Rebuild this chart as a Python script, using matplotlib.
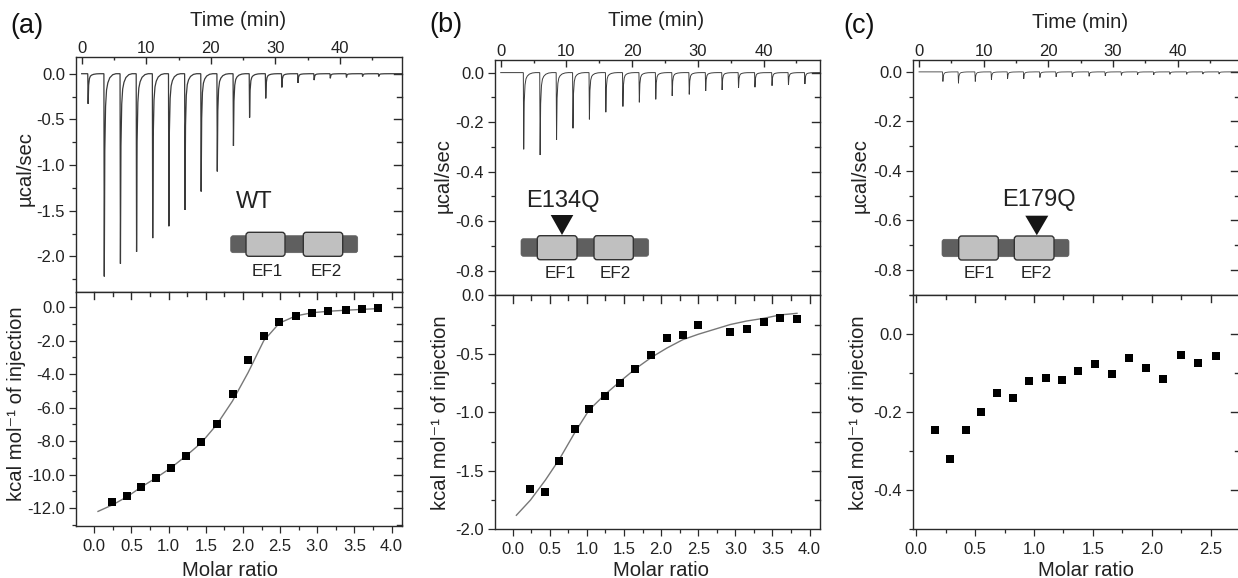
import numpy as np
import matplotlib
matplotlib.use("Agg")
import matplotlib.pyplot as plt
from matplotlib.patches import FancyBboxPatch, Polygon
from matplotlib.ticker import MultipleLocator, FormatStrFormatter

plt.rcParams['font.family'] = ['Liberation Sans', 'DejaVu Sans']
plt.rcParams['axes.unicode_minus'] = False

W, H = 1238, 578
DARK = '#2a2a2a'

### Thermogram injections: time (min) and peak depth (ucal/sec)
time_a = [1.0, 3.5, 6.0, 8.5, 11.0, 13.5, 16.0, 18.5, 21.0, 23.5, 26.0, 28.5, 31.0, 33.5, 36.0, 38.5, 41.0, 43.5, 46.0]
peak_a = [-0.33, -2.22, -2.08, -1.95, -1.80, -1.67, -1.49, -1.29, -1.07, -0.79, -0.48, -0.27, -0.15, -0.10, -0.07, -0.05, -0.04, -0.03, -0.03]
time_b = [3.5, 6.0, 8.5, 11.0, 13.5, 16.0, 18.6, 21.1, 23.6, 26.1, 28.7, 31.2, 33.7, 36.2, 38.7, 41.3, 43.8, 46.3]
peak_b = [-0.31, -0.333, -0.272, -0.225, -0.189, -0.16, -0.137, -0.12, -0.108, -0.094, -0.088, -0.074, -0.07, -0.062, -0.059, -0.053, -0.05, -0.046]
time_c = [3.7, 6.1, 8.7, 11.2, 13.7, 16.2, 18.7, 21.2, 23.7, 26.3, 28.8, 31.3, 33.8, 36.3, 38.8, 41.4, 43.9, 46.4]
peak_c = [-0.039, -0.046, -0.039, -0.032, -0.028, -0.028, -0.023, -0.02, -0.02, -0.018, -0.016, -0.014, -0.012, -0.012, -0.01, -0.01, -0.009, -0.009]

### Shape of one injection peak
shape_dt = [-0.06, 0.0, 0.08, 0.2, 0.35, 0.55, 0.85, 1.3, 1.8]
shape_frac = [0.0, 1.0, 0.38, 0.16, 0.08, 0.045, 0.02, 0.005, 0.0]

### Binding isotherms
ratio_a = [0.24, 0.44, 0.63, 0.83, 1.03, 1.23, 1.44, 1.65, 1.86, 2.07, 2.28, 2.49, 2.71, 2.93, 3.15, 3.38, 3.60, 3.82]
heat_a = [-11.62, -11.30, -10.73, -10.19, -9.63, -8.90, -8.04, -6.98, -5.21, -3.18, -1.69, -0.91, -0.52, -0.32, -0.24, -0.18, -0.08, -0.04]
fit_x_a = [0.05, 0.25, 0.45, 0.63, 0.83, 1.03, 1.23, 1.44, 1.65, 1.86, 2.07, 2.28, 2.49, 2.71, 2.93, 3.15, 3.38, 3.60, 3.82]
fit_y_a = [-12.2, -11.8, -11.3, -10.75, -10.2, -9.6, -8.9, -8.1, -7.0, -5.6, -3.9, -2.0, -0.95, -0.52, -0.33, -0.24, -0.18, -0.13, -0.08]

ratio_b = [0.24, 0.44, 0.63, 0.84, 1.03, 1.24, 1.44, 1.65, 1.87, 2.08, 2.29, 2.50, 2.93, 3.15, 3.38, 3.60, 3.83]
heat_b = [-1.652, -1.678, -1.419, -1.14, -0.974, -0.86, -0.749, -0.63, -0.513, -0.368, -0.342, -0.254, -0.316, -0.288, -0.231, -0.197, -0.20]
fit_x_b = [0.05, 0.24, 0.44, 0.63, 0.84, 1.03, 1.24, 1.44, 1.65, 1.87, 2.08, 2.29, 2.50, 2.93, 3.15, 3.38, 3.60, 3.83]
fit_y_b = [-1.88, -1.75, -1.58, -1.40, -1.17, -0.98, -0.85, -0.74, -0.63, -0.53, -0.45, -0.38, -0.333, -0.25, -0.22, -0.197, -0.168, -0.154]

ratio_c = [0.161, 0.289, 0.422, 0.552, 0.688, 0.824, 0.96, 1.10, 1.24, 1.377, 1.518, 1.663, 1.81, 1.95, 2.10, 2.246, 2.394, 2.547]
heat_c = [-0.245, -0.321, -0.245, -0.199, -0.151, -0.165, -0.12, -0.113, -0.117, -0.096, -0.078, -0.103, -0.061, -0.087, -0.115, -0.053, -0.075, -0.057]


def px_axes(fig, left, right, top, bottom):
    return fig.add_axes([left / W, 1 - bottom / H, (right - left) / W, (bottom - top) / H])


def style_axes(ax, xmaj, ymaj):
    ax.xaxis.set_major_locator(MultipleLocator(xmaj))
    ax.xaxis.set_minor_locator(MultipleLocator(xmaj / 2))
    ax.yaxis.set_major_locator(MultipleLocator(ymaj))
    ax.yaxis.set_minor_locator(MultipleLocator(ymaj / 2))
    ax.yaxis.set_major_formatter(FormatStrFormatter('%.1f'))
    for s in ax.spines.values():
        s.set_linewidth(1.0)
        s.set_color(DARK)
    # y ticks poke out on the left, in on the right
    ax.tick_params(axis='y', which='major', left=True, right=False, direction='out', length=5, width=0.9,
                   labelsize=12, pad=3, color=DARK, labelcolor='#222222')
    ax.tick_params(axis='y', which='minor', left=True, right=False, direction='out', length=3, width=0.9, color=DARK)


def right_ticks(ax, major, minor):
    # inward ticks on the right edge
    tr = ax.get_yaxis_transform()
    for v in major:
        ax.plot([1, 1 - 0.026], [v, v], transform=tr, color=DARK, lw=1.0, clip_on=False, zorder=1)
    for v in minor:
        ax.plot([1, 1 - 0.014], [v, v], transform=tr, color=DARK, lw=1.0, clip_on=False, zorder=1)


def thermogram(ax, times, peaks, t_end, lw):
    t = [0.0]
    y = [0.0]
    for ti, pk in zip(times, peaks):
        t += [ti + d for d in shape_dt]
        y += [pk * f for f in shape_frac]
    t.append(t_end)
    y.append(0.0)
    ax.plot(t, y, color='#3a3a3a', lw=lw, solid_joinstyle='miter')


def top_panel(ax, times, peaks, xlim, ylim, ymaj, lw):
    thermogram(ax, times, peaks, xlim[1], lw)
    ax.set_xlim(xlim)
    ax.set_ylim(ylim)
    style_axes(ax, 10, ymaj)
    ax.xaxis.set_major_formatter(FormatStrFormatter('%d'))
    ax.tick_params(axis='x', which='major', bottom=False, top=True, labelbottom=False, labeltop=True,
                   direction='in', length=5, width=1.0, labelsize=12, pad=1, color=DARK, labelcolor='#222222')
    ax.tick_params(axis='x', which='minor', bottom=False, top=True, direction='in', length=2.5, width=1.0, color=DARK)
    ymin, ymax = ylim
    vals = np.arange(0, ymin, -ymaj)
    mins = np.arange(ymaj / 2, -ymin, ymaj)
    right_ticks(ax, vals, -mins)


def bottom_panel(ax, x, y, fx, fy, xlim, ylim, xmaj, ymaj):
    if fx is not None:
        ax.plot(fx, fy, color='#777777', lw=1.0, zorder=2)
    ax.plot(x, y, ls='none', marker='s', ms=6.2, color='black', mew=0, zorder=3)
    ax.set_xlim(xlim)
    ax.set_ylim(ylim)
    style_axes(ax, xmaj, ymaj)
    ax.xaxis.set_major_formatter(FormatStrFormatter('%.1f'))
    ax.tick_params(axis='x', which='major', bottom=True, top=False, direction='out', length=5, width=0.9,
                   labelsize=12, pad=4, color=DARK, labelcolor='#222222')
    ax.tick_params(axis='x', which='minor', bottom=True, top=False, direction='out', length=3, width=0.9, color=DARK)
    # inward ticks along the shared top edge
    tr = ax.get_xaxis_transform()
    lo = np.ceil(xlim[0] / (xmaj / 2)) * (xmaj / 2)
    for v in np.arange(lo, xlim[1], xmaj / 2):
        major = abs(v / xmaj - round(v / xmaj)) < 1e-6
        ax.plot([v, v], [1, 1 - (0.032 if major else 0.018)], transform=tr, color=DARK, lw=1.0, clip_on=False, zorder=1)
    ymin, ymax = ylim
    n = int(round((ymax - ymin) / (ymaj / 2)))
    ticks = [round(np.ceil(ymin / (ymaj / 2)) * (ymaj / 2) + k * ymaj / 2, 4) for k in range(n + 1)]
    major = [v for v in ticks if abs(v / ymaj - round(v / ymaj)) < 1e-6 and ymin < v < ymax]
    minor = [v for v in ticks if abs(v / ymaj - round(v / ymaj)) >= 1e-6 and ymin < v < ymax]
    right_ticks(ax, major, minor)


def domain(ov, dark, box1, box2, y_dark, y_box, label_x, label_y):
    dk = FancyBboxPatch((dark[0] + 2, y_dark[0] + 2), dark[1] - dark[0] - 4, y_dark[1] - y_dark[0] - 4,
                        boxstyle='round,pad=2,rounding_size=2.5', fc='#5f5f5f', ec='#5f5f5f', lw=0.5)
    ov.add_patch(dk)
    for b in (box1, box2):
        p = FancyBboxPatch((b[0] + 3, y_box[0] + 3), b[1] - b[0] - 6, y_box[1] - y_box[0] - 6,
                           boxstyle='round,pad=3,rounding_size=3', fc='#c0c0c0', ec='#333333', lw=1.0)
        ov.add_patch(p)
    ov.text(label_x[0], label_y, 'EF1', ha='center', va='center', fontsize=12.3, color='#222222')
    ov.text(label_x[1], label_y, 'EF2', ha='center', va='center', fontsize=12.3, color='#222222')


fig = plt.figure(figsize=(W / 100, H / 100), dpi=100)

### (a)
ax = px_axes(fig, 76, 402, 57, 292)
top_panel(ax, time_a, peak_a, (-0.88, 49.6), (-2.39, 0.183), 0.5, 0.9)
ax = px_axes(fig, 76, 402, 292, 526.3)
bottom_panel(ax, ratio_a, heat_a, fit_x_a, fit_y_a, (-0.246, 4.14), (-13.09, 0.91), 0.5, 2.0)

### (b)
ax = px_axes(fig, 495, 820, 60, 295.3)
top_panel(ax, time_b, peak_b, (-0.87, 48.6), (-0.9, 0.051), 0.2, 0.7)
ax = px_axes(fig, 495, 820, 295.3, 529.3)
bottom_panel(ax, ratio_b, heat_b, fit_x_b, fit_y_b, (-0.238, 4.14), (-2.0, 0.0), 0.5, 0.5)

### (c) runs off the right of the picture
ax = px_axes(fig, 913.3, 1239.5, 60, 294.7)
top_panel(ax, time_c, peak_c, (-0.88, 49.56), (-0.9, 0.048), 0.2, 0.6)
ax = px_axes(fig, 913.3, 1239.5, 294.7, 529.3)
bottom_panel(ax, ratio_c, heat_c, None, None, (-0.025, 2.746), (-0.5, 0.1), 0.5, 0.2)

### overlay in pixel coordinates for labels and the domain sketches
ov = fig.add_axes([0, 0, 1, 1])
ov.set_xlim(0, W)
ov.set_ylim(H, 0)
ov.axis('off')
ov.patch.set_alpha(0)

domain(ov, (230.7, 357.7), (246, 285), (303.3, 342.7), (235.7, 252.7), (232.3, 256.3), (267, 326), 272)
domain(ov, (521, 648.7), (537.3, 577), (594, 633.3), (238.7, 256.3), (235.7, 259.7), (560, 615.7), 273)
domain(ov, (942, 1069), (958.7, 998.3), (1014.3, 1054), (239.3, 256.7), (236, 260), (979, 1036.3), 273.7)

ov.add_patch(Polygon([(550.7, 215), (573.3, 215), (562, 235)], closed=True, fc='#151515', ec='none'))
ov.add_patch(Polygon([(1025.3, 215.7), (1048.3, 215.7), (1036.8, 235.3)], closed=True, fc='#151515', ec='none'))

ov.text(254, 202, 'WT', ha='center', va='center', fontsize=17, color='#222222')
ov.text(563, 201, 'E134Q', ha='center', va='center', fontsize=17, color='#222222')
ov.text(1039, 200, 'E179Q', ha='center', va='center', fontsize=17, color='#222222')

for s, x, y in [('(a)', 27, 26), ('(b)', 445.5, 25), ('(c)', 859, 26)]:
    ov.text(x, y, s, ha='center', va='center', fontsize=19.5, color='#111111')

for x, y in [(238, 20), (656, 20), (1080, 23)]:
    ov.text(x, y, 'Time (min)', ha='center', va='center', fontsize=14.6, color='#222222')
for x in (230, 661, 1086):
    ov.text(x, 570, 'Molar ratio', ha='center', va='center', fontsize=14.6, color='#222222')

for x, y in [(25, 169), (443, 176), (860, 176)]:
    ov.text(x, y, 'µcal/sec', rotation=90, ha='center', va='center', fontsize=14.6, color='#222222')
for x, y in [(17, 404), (440, 412.5), (859, 413)]:
    ov.text(x, y, 'kcal mol⁻¹ of injection', rotation=90, ha='center', va='center', fontsize=14.6, color='#222222')

fig.savefig('out.png', dpi=100)
